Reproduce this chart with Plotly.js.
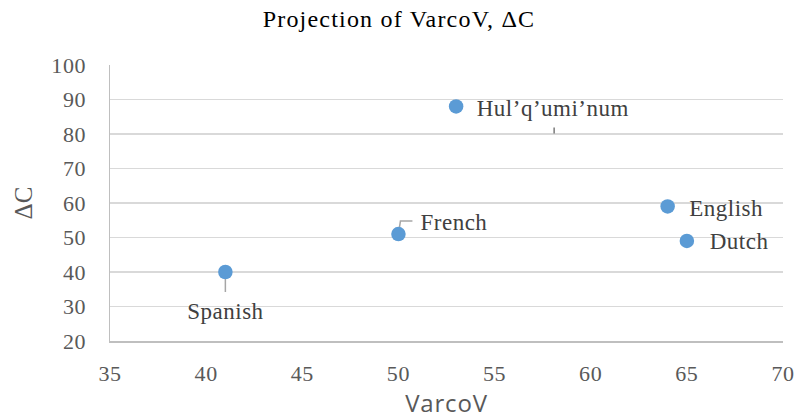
<!DOCTYPE html>
<html>
<head>
<meta charset="utf-8">
<script src="https://cdn.plot.ly/plotly-3.0.1.min.js"></script>
<style>
html,body{margin:0;padding:0;background:#fff;}
#chart{width:798px;height:420px;}
#chart .gtitle{letter-spacing:1.2px;}
#chart .xtick text, #chart .ytick text{letter-spacing:0.6px;}
#chart .annotation-text{letter-spacing:0.5px;}
#chart .xtitle{letter-spacing:0.8px;}
</style>
</head>
<body>
<div id="chart"></div>
<script>
const languages = ["Spanish", "French", "Hul\u2019q\u2019umi\u2019num", "English", "Dutch"];
const varcoV = [41, 50, 53, 64, 65];
const deltaC = [40, 51, 88, 59, 49];
const xTicks = [35, 40, 45, 50, 55, 60, 65, 70];
const yTicks = [20, 30, 40, 50, 60, 70, 80, 90, 100];

const serif = "Liberation Serif, Times New Roman, serif";
const labelFont = {family: serif, size: 23, color: "#404040"};

// label placement (pixel offsets) per language
const labelStyle = {
  "Spanish": {xanchor: "center", yanchor: "middle", xshift: 0, yshift: -39},
  "French": {xanchor: "left", yanchor: "middle", xshift: 22, yshift: 12},
  "Hul\u2019q\u2019umi\u2019num": {xanchor: "left", yanchor: "middle", xshift: 22, yshift: -2},
  "English": {xanchor: "left", yanchor: "middle", xshift: 21, yshift: -2},
  "Dutch": {xanchor: "left", yanchor: "middle", xshift: 22, yshift: -1}
};

const annotations = languages.map((name, i) => Object.assign({
  x: varcoV[i], y: deltaC[i], xref: "x", yref: "y",
  text: name, showarrow: false, font: labelFont
}, labelStyle[name]));

const leaderColor = "#A6A6A6";
const shapes = [];
// Spanish leader: straight down
shapes.push({type: "path", xref: "x", yref: "y", xsizemode: "pixel", ysizemode: "pixel",
  xanchor: varcoV[0], yanchor: deltaC[0], path: "M 0 -4 L 0 -20",
  line: {color: leaderColor, width: 1.5}, layer: "below"});
// French leader: elbow
shapes.push({type: "path", xref: "x", yref: "y", xsizemode: "pixel", ysizemode: "pixel",
  xanchor: varcoV[1], yanchor: deltaC[1], path: "M 0 0 L 2 13 L 14 13",
  line: {color: leaderColor, width: 1.5}, layer: "below"});
// Hul'q'umi'num stray leader tick
shapes.push({type: "path", xref: "x", yref: "y", xsizemode: "pixel", ysizemode: "pixel",
  xanchor: varcoV[2], yanchor: deltaC[2], path: "M 98 -21 L 98 -27",
  line: {color: "#595959", width: 1.2}, layer: "above"});

const trace = {
  type: "scatter", mode: "markers",
  x: varcoV, y: deltaC, text: languages,
  marker: {size: 14.5, color: "#5B9BD5"},
  hoverinfo: "text"
};

const layout = {
  width: 798, height: 420,
  margin: {l: 110, r: 15, t: 65, b: 79},
  paper_bgcolor: "#fff", plot_bgcolor: "#fff",
  showlegend: false,
  title: {text: "Projection of VarcoV, \u0394C", x: 0.5, xanchor: "center", y: 0.955, yanchor: "middle",
    font: {family: serif, size: 24, color: "#000"}},
  xaxis: {
    range: [35, 70], tickvals: xTicks, ticktext: xTicks.map(String),
    showgrid: false, zeroline: false, showline: true, linecolor: "#BFBFBF", linewidth: 1.5,
    ticks: "", ticklabelstandoff: 12,
    tickfont: {family: serif, size: 22, color: "#595959"},
    title: {text: "VarcoV", standoff: 8, font: {family: "Open Sans, Liberation Sans, sans-serif", size: 24, color: "#595959"}}
  },
  yaxis: {
    range: [20, 100], tickvals: yTicks, ticktext: yTicks.map(String),
    showgrid: true, gridcolor: "#D9D9D9", gridwidth: 1.5, zeroline: false,
    showline: true, linecolor: "#BFBFBF", linewidth: 1.5,
    ticks: "", ticklabelstandoff: 18,
    tickfont: {family: serif, size: 22, color: "#595959"},
    title: {text: "\u0394C", standoff: 13, font: {family: serif, size: 25, color: "#595959"}}
  },
  annotations: annotations,
  shapes: shapes
};

Plotly.newPlot("chart", [trace], layout, {displayModeBar: false, staticPlot: true});
</script>
</body>
</html>
